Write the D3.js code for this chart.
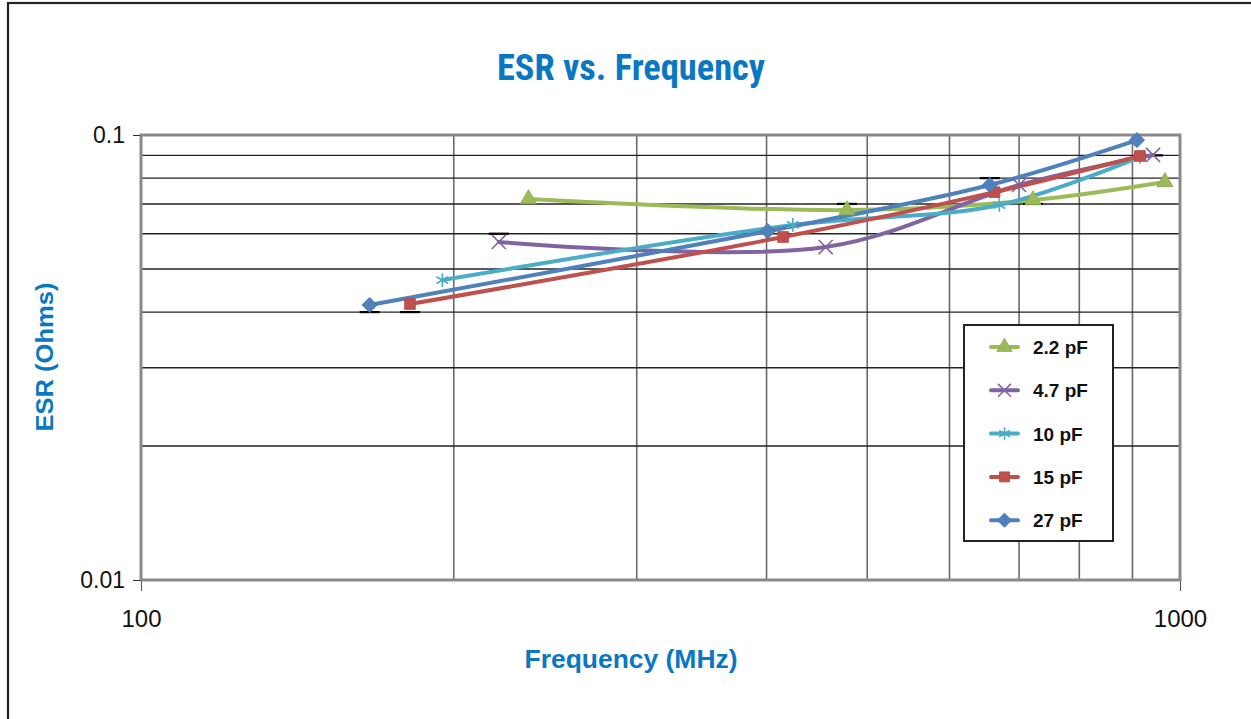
<!DOCTYPE html>
<html>
<head>
<meta charset="utf-8">
<script src="https://cdn.jsdelivr.net/npm/d3@7"></script>
<style>
  html, body { margin: 0; padding: 0; background: #fff; }
  svg { display: block; }
</style>
</head>
<body>
<svg id="chart" width="1251" height="719"></svg>
<script>
// ---- data ----
const seriesNames = ["2.2 pF", "4.7 pF", "10 pF", "15 pF", "27 pF"];
const freq_2p2 = [236, 478, 722, 967];
const esr_2p2  = [0.0718, 0.0678, 0.0714, 0.0784];
const freq_4p7 = [221, 456, 700, 942];
const esr_4p7  = [0.0575, 0.0560, 0.0772, 0.0902];
const freq_10  = [195, 424, 670, 915];
const esr_10   = [0.0472, 0.0628, 0.0696, 0.0893];
const freq_15  = [181.5, 415, 663, 915];
const esr_15   = [0.0417, 0.0590, 0.0744, 0.0897];
const freq_27  = [166, 401, 656, 909];
const esr_27   = [0.0415, 0.0608, 0.0772, 0.0974];
const xTickValues = [100, 1000];
const xTickLabels = ["100", "1000"];
const yTickValues = [0.01, 0.1];
const yTickLabels = ["0.01", "0.1"];
const xGridValues = [200, 300, 400, 500, 600, 700, 800, 900];
const yGridValues = [0.02, 0.03, 0.04, 0.05, 0.06, 0.07, 0.08, 0.09];
// small dark dashes on the gridlines (artifacts in the original)
const dashFreq = [166, 181.5, 221, 478, 656, 722, 942];
const dashEsr  = [0.04, 0.04, 0.06, 0.07, 0.08, 0.07, 0.09];

const colors = ["#9bbb59", "#8064a2", "#4bacc6", "#c0504d", "#4f81bd"];
const symbols = [d3.symbolTriangle, d3.symbolTimes, d3.symbolAsterisk, d3.symbolSquare, d3.symbolSquare];
const symbolRotate = [0, 0, 0, 0, 45];
const strokeSymbol = [false, true, true, false, false];

const series = [
  {name: seriesNames[0], f: freq_2p2, e: esr_2p2},
  {name: seriesNames[1], f: freq_4p7, e: esr_4p7},
  {name: seriesNames[2], f: freq_10,  e: esr_10},
  {name: seriesNames[3], f: freq_15,  e: esr_15},
  {name: seriesNames[4], f: freq_27,  e: esr_27}
].map((s, i) => ({...s, color: colors[i], symbol: symbols[i], rot: symbolRotate[i], stroke: strokeSymbol[i],
  pts: s.f.map((f, j) => ({f, e: s.e[j]}))}));

// ---- layout ----
const svg = d3.select("#chart");
const L = 141, R = 1180, T = 135, B = 580;
const x = d3.scaleLog().domain([100, 1000]).range([L, R]);
const y = d3.scaleLog().domain([0.01, 0.1]).range([B, T]);

// outer frame
svg.append("rect").attr("x", 8).attr("y", 3).attr("width", 1300).attr("height", 800)
  .attr("fill", "none").attr("stroke", "#222").attr("stroke-width", 2.2);

// title
svg.append("text").attr("x", 631).attr("y", 80).attr("text-anchor", "middle")
  .attr("font-family", "'Liberation Sans Narrow', 'Roboto Condensed', 'Liberation Sans', Arial, sans-serif")
  .attr("font-weight", "bold").attr("font-size", 36).attr("fill", "#0a77c2")
  .attr("textLength", 268).attr("lengthAdjust", "spacingAndGlyphs")
  .text("ESR vs. Frequency");

// grid
const g = svg.append("g");
g.selectAll(".vg").data(xGridValues).join("line")
  .attr("x1", d => x(d)).attr("x2", d => x(d)).attr("y1", T).attr("y2", B)
  .attr("stroke", "#6a6a6a").attr("stroke-width", 1.6);
g.selectAll(".hg").data(yGridValues).join("line")
  .attr("x1", L).attr("x2", R).attr("y1", d => y(d)).attr("y2", d => y(d))
  .attr("stroke", "#222").attr("stroke-width", 1.4);
g.selectAll(".dash").data(dashFreq).join("line")
  .attr("x1", (d) => x(d) - 10).attr("x2", d => x(d) + 10)
  .attr("y1", (d, i) => y(dashEsr[i])).attr("y2", (d, i) => y(dashEsr[i]))
  .attr("stroke", "#000").attr("stroke-width", 2.2);

// plot border
svg.append("rect").attr("x", L).attr("y", T).attr("width", R - L).attr("height", B - T)
  .attr("fill", "none").attr("stroke", "#8a8a8a").attr("stroke-width", 3);

// axes
const yAxis = d3.axisLeft(y).tickValues(yTickValues).tickFormat((d, i) => yTickLabels[i]).tickSize(7).tickPadding(8);
const ya = svg.append("g").attr("transform", `translate(${L - 1},0)`).call(yAxis);
ya.select(".domain").remove();
ya.selectAll("text").attr("font-family", "'Liberation Sans', Arial, sans-serif").attr("font-size", 23).attr("fill", "#111");
ya.selectAll("line").attr("stroke", "#333");

const xAxis = d3.axisBottom(x).tickValues(xTickValues).tickFormat((d, i) => xTickLabels[i]).tickSize(10).tickPadding(19);
const xa = svg.append("g").attr("transform", `translate(0,${B + 1})`).call(xAxis);
xa.select(".domain").remove();
xa.selectAll("text").attr("font-family", "'Liberation Sans', Arial, sans-serif").attr("font-size", 24).attr("fill", "#111");
xa.selectAll("line").attr("stroke", "#555");

// axis titles
svg.append("text").attr("x", 631).attr("y", 668).attr("text-anchor", "middle")
  .attr("font-family", "'Liberation Sans', Arial, sans-serif").attr("font-weight", "bold")
  .attr("font-size", 25).attr("fill", "#0a77c2")
  .attr("textLength", 213).attr("lengthAdjust", "spacingAndGlyphs").text("Frequency (MHz)");
svg.append("text").attr("transform", "translate(53,357) rotate(-90)").attr("text-anchor", "middle")
  .attr("font-family", "'Liberation Sans', Arial, sans-serif").attr("font-weight", "bold")
  .attr("font-size", 24).attr("fill", "#0a77c2")
  .attr("textLength", 149).attr("lengthAdjust", "spacingAndGlyphs").text("ESR (Ohms)");

// lines
const line = d3.line().x(d => x(d.f)).y(d => y(d.e)).curve(d3.curveCatmullRom.alpha(0.5));
const sg = svg.append("g");
series.forEach(s => {
  sg.append("path").attr("d", line(s.pts)).attr("fill", "none")
    .attr("stroke", s.color).attr("stroke-width", 4).attr("stroke-linecap", "round");
});
function drawMarker(sel, s, cx, cy, size) {
  const p = d3.symbol().type(s.symbol).size(size)();
  const m = sel.append("path").attr("d", p).attr("transform", `translate(${cx},${cy}) rotate(${s.rot})`);
  if (s.stroke) m.attr("fill", "none").attr("stroke", s.color).attr("stroke-width", 1.6);
  else m.attr("fill", s.color).attr("stroke", d3.color(s.color).darker(0.3)).attr("stroke-width", 0.8);
}
series.forEach(s => {
  s.pts.forEach(p => drawMarker(sg, s, x(p.f), y(p.e), s.stroke ? 130 : 115));
});

// legend
const lg = svg.append("g");
lg.append("rect").attr("x", 964).attr("y", 325).attr("width", 149).attr("height", 216)
  .attr("fill", "#fff").attr("stroke", "#222").attr("stroke-width", 2);
series.forEach((s, i) => {
  const cy = 347 + i * 43.3;
  lg.append("line").attr("x1", 991).attr("x2", 1018).attr("y1", cy).attr("y2", cy)
    .attr("stroke", s.color).attr("stroke-width", 4).attr("stroke-linecap", "round");
  drawMarker(lg, s, 1004.5, cy, s.stroke ? 110 : 100);
  lg.append("text").attr("x", 1033).attr("y", cy + 7)
    .attr("font-family", "'Liberation Sans', Arial, sans-serif").attr("font-weight", "bold")
    .attr("font-size", 19).attr("fill", "#111").text(s.name);
});
</script>
</body>
</html>
